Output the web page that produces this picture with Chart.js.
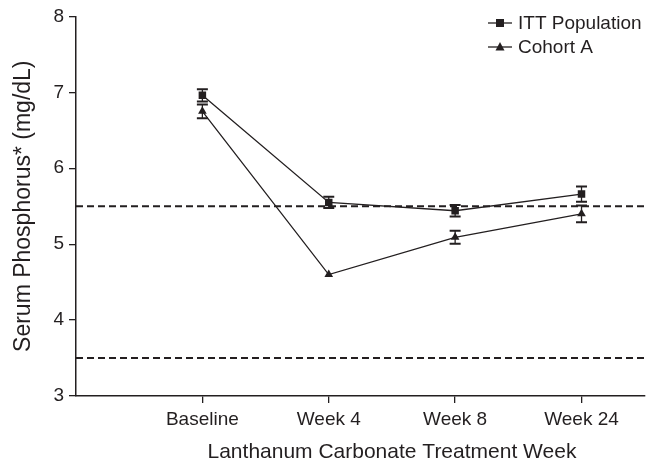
<!DOCTYPE html>
<html>
<head>
<meta charset="utf-8">
<script src="https://cdn.jsdelivr.net/npm/chart.js@4.4.0/dist/chart.umd.min.js"></script>
<style>
  html, body { margin: 0; padding: 0; background: #fff; }
  #wrap { width: 650px; height: 467px; }
</style>
</head>
<body>
<div id="wrap"><canvas id="chart"></canvas></div>
<script>
// weeks on the x axis (placed at 1..4)
const weeks = ['Baseline', 'Week 4', 'Week 8', 'Week 24'];
const seriesNames = ['ITT Population', 'Cohort A'];

// mean serum phosphorus and error (half bar length)
const ittMean = [6.96, 5.55, 5.44, 5.66];
const ittErr = [0.08, 0.075, 0.075, 0.10];
const cohortMean = [6.75, 4.60, 5.09, 5.40];
const cohortErr = [0.09, 0, 0.085, 0.11];

// dashed target range lines
const refLines = [5.5, 3.5];
const yTicks = [3, 4, 5, 6, 7, 8];

const ink = '#231f20';
const fontFam = '"Liberation Sans", Arial, sans-serif';

const pts = arr => arr.map((v, i) => ({ x: i + 1, y: v }));

const errorBars = {
  id: 'errorBars',
  afterDatasetsDraw(chart) {
    const { ctx, scales: { x, y } } = chart;
    const sets = [[ittMean, ittErr], [cohortMean, cohortErr]];
    ctx.save();
    ctx.strokeStyle = ink;
    sets.forEach(([m, e]) => {
      m.forEach((v, i) => {
        if (!e[i]) return;
        const px = x.getPixelForValue(i + 1);
        const top = y.getPixelForValue(v + e[i]);
        const bot = y.getPixelForValue(v - e[i]);
        ctx.lineWidth = 1.3;
        ctx.beginPath();
        ctx.moveTo(px, top); ctx.lineTo(px, bot);
        ctx.stroke();
        ctx.lineWidth = 2;
        ctx.beginPath();
        ctx.moveTo(px - 5.5, top); ctx.lineTo(px + 5.5, top);
        ctx.moveTo(px - 5.5, bot); ctx.lineTo(px + 5.5, bot);
        ctx.stroke();
      });
    });
    ctx.restore();
  }
};

const extras = {
  id: 'extras',
  afterDraw(chart) {
    const { ctx, scales: { x } } = chart;
    ctx.save();
    ctx.fillStyle = ink;
    ctx.strokeStyle = ink;
    // x axis title centred over the week ticks
    ctx.font = '21px ' + fontFam;
    ctx.textAlign = 'center';
    ctx.textBaseline = 'middle';
    const cx = (x.getPixelForValue(1) + x.getPixelForValue(weeks.length)) / 2;
    ctx.fillText('Lanthanum Carbonate Treatment Week', cx, 452);

    // legend
    ctx.font = '19px ' + fontFam;
    ctx.textAlign = 'left';
    const rows = [23, 47];
    seriesNames.forEach((name, i) => {
      const ly = rows[i];
      ctx.lineWidth = 1.3;
      ctx.beginPath();
      ctx.moveTo(488, ly); ctx.lineTo(512, ly);
      ctx.stroke();
      ctx.beginPath();
      if (i === 0) {
        ctx.rect(496, ly - 4, 8, 8);
      } else {
        ctx.moveTo(500, ly - 5); ctx.lineTo(504.5, ly + 3.5); ctx.lineTo(495.5, ly + 3.5);
        ctx.closePath();
      }
      ctx.fill();
      ctx.fillText(name, 518, ly + 1);
    });
    ctx.restore();
  }
};

const refSets = refLines.map(v => ({
  data: [{ x: 0, y: v }, { x: 4.5, y: v }],
  borderColor: ink,
  borderWidth: 2,
  borderDash: [7, 4],
  pointRadius: 0,
  fill: false
}));

new Chart(document.getElementById('chart'), {
  type: 'line',
  data: {
    datasets: [
      {
        label: seriesNames[0],
        data: pts(ittMean),
        borderColor: ink,
        backgroundColor: ink,
        borderWidth: 1.3,
        pointStyle: 'rect',
        pointRadius: 5.3,
        pointBorderWidth: 0
      },
      {
        label: seriesNames[1],
        data: pts(cohortMean),
        borderColor: ink,
        backgroundColor: ink,
        borderWidth: 1.3,
        pointStyle: 'triangle',
        pointRadius: 5,
        pointBorderWidth: 0
      },
      ...refSets
    ]
  },
  options: {
    responsive: true,
    maintainAspectRatio: false,
    animation: false,
    layout: { padding: { top: 15, right: 2, left: 0, bottom: 0 } },
    plugins: {
      legend: { display: false },
      tooltip: { enabled: false }
    },
    scales: {
      x: {
        type: 'linear',
        min: 0,
        max: 4.5,
        afterBuildTicks: s => { s.ticks = weeks.map((w, i) => ({ value: i + 1 })); },
        afterFit: s => { s.height = 71; },
        ticks: {
          callback: v => weeks[v - 1],
          color: ink,
          font: { family: fontFam, size: 19 },
          padding: 5,
          maxRotation: 0,
          autoSkip: false
        },
        grid: { drawOnChartArea: false, drawTicks: true, tickLength: 7, color: ink, lineWidth: 1.3 },
        border: { display: true, color: ink, width: 1.5 }
      },
      y: {
        min: 3,
        max: 8,
        afterBuildTicks: s => { s.ticks = yTicks.map(v => ({ value: v })); },
        afterFit: s => { s.width = 76; },
        ticks: {
          color: ink,
          font: { family: fontFam, size: 19 },
          padding: 5
        },
        grid: { drawOnChartArea: false, drawTicks: true, tickLength: 7, color: ink, lineWidth: 1.3 },
        border: { display: true, color: ink, width: 1.5 },
        title: {
          display: true,
          text: 'Serum Phosphorus* (mg/dL)',
          color: ink,
          font: { family: fontFam, size: 23 },
          padding: { top: 10, bottom: 0 }
        }
      }
    }
  },
  plugins: [errorBars, extras]
});
</script>
</body>
</html>
